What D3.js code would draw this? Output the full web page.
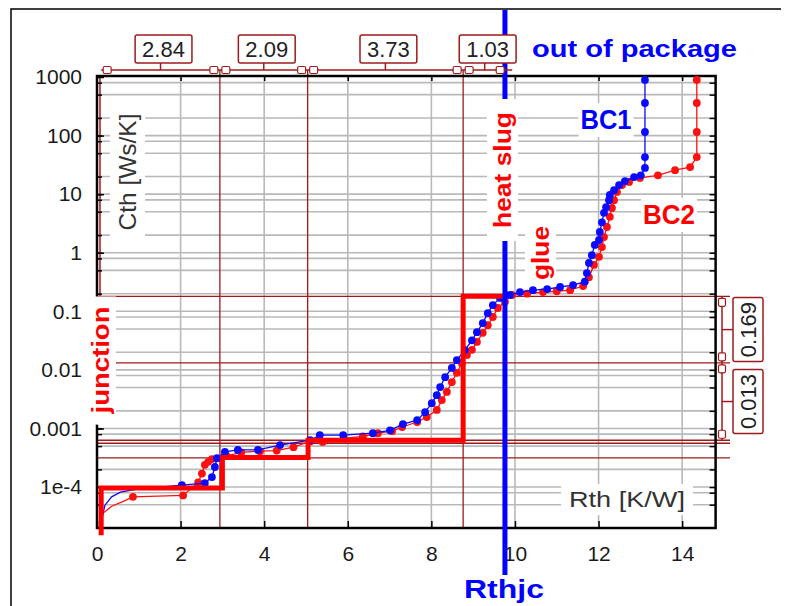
<!DOCTYPE html>
<html>
<head>
<meta charset="utf-8">
<script src="https://cdn.jsdelivr.net/npm/d3@7"></script>
<style>
body { margin: 0; background: #fff; }
svg { display: block; font-family: "Liberation Sans", Arial, sans-serif; }
</style>
</head>
<body>
<div id="chart"></div>
<script>
// Variables
var width = 793,
	height = 606,
	darkRed = "#9e1b1b",
	gridGray = "#b9b9b9";

// axis ticks
var xTicks = [0, 2, 4, 6, 8, 10, 12, 14];
var yTicks = [1e-4, 0.001, 0.01, 0.1, 1, 10, 100, 1000];
var yTickLabels = ["1e-4", "0.001", "0.01", "0.1", "1", "10", "100", "1000"];

// cumulative structure functions [Rth K/W, Cth Ws/K]
var bc1Lead = [[0.1, 2.6e-5], [0.19, 4.9e-5], [0.35, 6.8e-5], [0.56, 8.2e-5], [1.0, 9.3e-5], [1.5, 1.0e-4]];
var bc1 = [[2.03, 1.08e-4], [2.58, 1.17e-4], [2.75, 1.48e-4], [2.82, 2.2e-4], [2.87, 3.1e-4], [3.06, 4.0e-4],
	[3.37, 4.3e-4], [3.85, 4.3e-4], [4.38, 5.2e-4], [5.1, 6.3e-4], [5.33, 7.7e-4], [5.89, 7.7e-4], [6.6, 8.3e-4],
	[7.01, 9.3e-4], [7.32, 1.19e-3], [7.66, 1.39e-3], [7.85, 1.9e-3], [8.01, 2.7e-3], [8.13, 3.7e-3], [8.21, 5.1e-3],
	[8.33, 7.5e-3], [8.49, 0.0108], [8.61, 0.0147], [8.8, 0.0218], [8.97, 0.032], [9.09, 0.044], [9.23, 0.063],
	[9.35, 0.093], [9.47, 0.128], [9.64, 0.169], [9.88, 0.19], [10.12, 0.213], [10.43, 0.23], [10.77, 0.24],
	[11.08, 0.26], [11.39, 0.28], [11.67, 0.32], [11.72, 0.45], [11.77, 0.67], [11.84, 0.91], [11.91, 1.36],
	[12.01, 1.65], [12.03, 2.26], [12.08, 3.3], [12.13, 4.8], [12.18, 6.0], [12.25, 7.9], [12.27, 9.7],
	[12.37, 11.7], [12.49, 14.3], [12.63, 16.7], [12.85, 19.6], [13.01, 21], [13.11, 28], [13.11, 43],
	[13.11, 115], [13.11, 360], [13.11, 890]];
var bc2Lead = [[0.08, 2.4e-5], [0.15, 3.6e-5], [0.35, 4.7e-5], [0.6, 5.6e-5]];
var bc2 = [[0.86, 6.8e-5], [2.06, 7.2e-5], [2.42, 1.2e-4], [2.51, 1.7e-4], [2.58, 2.4e-4], [2.66, 2.7e-4],
	[2.75, 3.0e-4], [3.1, 3.4e-4], [3.45, 3.9e-4], [3.9, 4.1e-4], [4.3, 4.2e-4], [4.7, 4.8e-4], [5.1, 6.0e-4],
	[5.4, 5.9e-4], [5.9, 6.8e-4], [6.36, 7.3e-4], [6.72, 8.3e-4], [7.06, 9.0e-4], [7.3, 1.06e-3], [7.66, 1.29e-3],
	[7.89, 1.57e-3], [8.13, 2.07e-3], [8.25, 3.05e-3], [8.37, 4.2e-3], [8.49, 6.2e-3], [8.61, 8.9e-3],
	[8.73, 0.013], [8.85, 0.018], [8.97, 0.022], [9.09, 0.03], [9.23, 0.043], [9.35, 0.058], [9.47, 0.08],
	[9.59, 0.114], [9.76, 0.145], [9.93, 0.19], [10.29, 0.2], [10.67, 0.213], [11.0, 0.22], [11.32, 0.23],
	[11.63, 0.27], [11.77, 0.38], [11.89, 0.62], [12.01, 0.85], [12.08, 1.25], [12.13, 1.85], [12.2, 2.75],
	[12.27, 4.1], [12.32, 5.8], [12.37, 7.9], [12.44, 10.9], [12.56, 14.3], [12.73, 16.2], [12.99, 18.9],
	[13.42, 21], [13.83, 25.7], [14.19, 29], [14.35, 43], [14.35, 115], [14.35, 360], [14.35, 890]];

// lumped model steps
var stepR = [0.1, 0.1, 3.0, 5.05, 8.76, 9.76];
var stepC = [1.5e-5, 9.6e-5, 3.2e-4, 6.3e-4, 0.18, 0.18];

// partition markers
var rLines = [2.94, 5.04, 8.76];
var cLines = [0.18, 0.0132, 6.3e-4, 5.6e-4, 3.15e-4];
var bracketR = [0.1, 2.94, 5.04, 8.76, 9.79];
var bracketLabels = ["2.84", "2.09", "3.73", "1.03"];
var bracketC = [0.18, 0.0132, 6.3e-4];
var bracketCLabels = ["0.169", "0.013"];
var rthjc = 9.76;

var svg = d3.select("#chart").append("svg")
	.attr("width", width)
	.attr("height", height);

var x = d3.scaleLinear().domain([0, 14.8]).range([97, 715.6]),
	y = d3.scaleLog().domain([2e-5, 1040]).range([528, 76]);

var pLeft = x.range()[0], pRight = x.range()[1], pTop = y.range()[1], pBottom = y.range()[0];

// outer border (left + top visible)
svg.append("path")
	.attr("d", "M11,606V9H781")
	.attr("fill", "none")
	.attr("stroke", "#000")
	.attr("stroke-width", 1.5);

// grid
var gridVals = [];
yTicks.forEach(function(d) {
	[1, 0.8, 0.5, 0.2].forEach(function(f) {
		var v = d * f;
		if (v > 2.1e-5 && v < 1000) gridVals.push(v);
	});
});

svg.append("g").selectAll("line")
	.data(gridVals)
	.enter().append("line")
	.attr("x1", pLeft).attr("x2", pRight)
	.attr("y1", function(d) { return y(d); })
	.attr("y2", function(d) { return y(d); })
	.attr("stroke", gridGray)
	.attr("stroke-width", 1.6);

svg.append("g").selectAll("line")
	.data(xTicks.slice(1))
	.enter().append("line")
	.attr("x1", function(d) { return x(d); })
	.attr("x2", function(d) { return x(d); })
	.attr("y1", pTop).attr("y2", pBottom)
	.attr("stroke", gridGray)
	.attr("stroke-width", 1.6);

// dark red partition lines
svg.append("g").selectAll("line")
	.data(rLines)
	.enter().append("line")
	.attr("x1", function(d) { return x(d); })
	.attr("x2", function(d) { return x(d); })
	.attr("y1", 70).attr("y2", pBottom)
	.attr("stroke", darkRed)
	.attr("stroke-width", 1.3);

svg.append("g").selectAll("line")
	.data(cLines)
	.enter().append("line")
	.attr("x1", pLeft).attr("x2", 730)
	.attr("y1", function(d) { return y(d); })
	.attr("y2", function(d) { return y(d); })
	.attr("stroke", darkRed)
	.attr("stroke-width", 1.3);

// "out of package" region edge
svg.append("line")
	.attr("x1", pLeft + 3).attr("x2", pLeft + 3)
	.attr("y1", pTop).attr("y2", y(cLines[0]))
	.attr("stroke", darkRed)
	.attr("stroke-width", 1.5);

// frame
svg.append("rect")
	.attr("x", pLeft).attr("y", pTop)
	.attr("width", pRight - pLeft).attr("height", pBottom - pTop)
	.attr("fill", "none")
	.attr("stroke", "#000")
	.attr("stroke-width", 2.5);

// axes
function styleAxis(g) {
	g.select(".domain").remove();
	g.attr("font-size", 21).attr("font-family", "'Liberation Sans', Arial, sans-serif");
	g.selectAll("text").attr("fill", "#1a1a1a");
	g.selectAll("line").attr("stroke", "#000").attr("stroke-width", 1.5);
}

svg.append("g")
	.attr("transform", "translate(" + pLeft + ",0)")
	.call(d3.axisLeft(y).tickValues(yTicks).tickFormat(function(d, i) { return yTickLabels[i]; }).tickSize(-7).tickPadding(15))
	.call(styleAxis);
svg.append("g")
	.attr("transform", "translate(" + pLeft + ",0)")
	.call(d3.axisLeft(y).tickValues(gridVals).tickFormat("").tickSize(-5))
	.call(styleAxis);
svg.append("g")
	.attr("transform", "translate(" + pRight + ",0)")
	.call(d3.axisRight(y).tickValues(gridVals).tickFormat("").tickSize(-6))
	.call(styleAxis);
svg.append("g")
	.attr("transform", "translate(0," + pBottom + ")")
	.call(d3.axisBottom(x).tickValues(xTicks).tickSize(-7).tickPadding(18))
	.call(styleAxis);
svg.append("g")
	.attr("transform", "translate(0," + pTop + ")")
	.call(d3.axisTop(x).tickValues(xTicks.slice(1)).tickFormat("").tickSize(-5))
	.call(styleAxis);

// curves
var line = d3.line()
	.x(function(d) { return x(d[0]); })
	.y(function(d) { return y(d[1]); });

function drawCurve(lead, pts, color) {
	var g = svg.append("g");
	g.append("path")
		.attr("d", line(lead.concat(pts)))
		.attr("fill", "none")
		.attr("stroke", color)
		.attr("stroke-width", 1.3);
	g.selectAll("circle")
		.data(pts)
		.enter().append("circle")
		.attr("cx", function(d) { return x(d[0]); })
		.attr("cy", function(d) { return y(d[1]); })
		.attr("r", 3.9)
		.attr("fill", color);
}
drawCurve(bc2Lead, bc2, "#ff1010");
drawCurve(bc1Lead, bc1, "#0a0aff");

// lumped steps
svg.append("path")
	.attr("d", d3.line().curve(d3.curveStepAfter)
		.x(function(d) { return x(d[0]); })
		.y(function(d) { return y(d[1]); })(stepR.map(function(r, i) { return [r, stepC[i]]; })))
	.attr("fill", "none")
	.attr("stroke", "#ff0000")
	.attr("stroke-width", 5);

// Rthjc line
svg.append("line")
	.attr("x1", x(rthjc)).attr("x2", x(rthjc))
	.attr("y1", 10).attr("y2", 575)
	.attr("stroke", "#0000ff")
	.attr("stroke-width", 5);

// top bracket
var tb = svg.append("g");
tb.append("line")
	.attr("x1", x(bracketR[0])).attr("x2", x(bracketR[bracketR.length - 1]) + 6)
	.attr("y1", 70).attr("y2", 70)
	.attr("stroke", darkRed).attr("stroke-width", 1.5);
bracketLabels.forEach(function(lbl, i) {
	var a = x(bracketR[i]), b = x(bracketR[i + 1]), m = (a + b) / 2;
	[a + 2, b - 10].forEach(function(px) {
		tb.append("rect").attr("x", px).attr("y", 66.5).attr("width", 8).attr("height", 7)
			.attr("rx", 1.5).attr("fill", "#fff").attr("stroke", darkRed).attr("stroke-width", 1.2);
	});
	tb.append("line").attr("x1", m).attr("x2", m).attr("y1", 63).attr("y2", 70)
		.attr("stroke", darkRed).attr("stroke-width", 1.5);
	var t = tb.append("text").attr("x", m + 3).attr("y", 57).attr("text-anchor", "middle")
		.attr("font-size", 22).attr("fill", "#222").text(lbl);
	var bb = t.node().getBBox();
	tb.insert("rect", "text").attr("x", bb.x - 7).attr("y", 35).attr("width", bb.width + 14).attr("height", 28)
		.attr("rx", 2).attr("fill", "#fff").attr("stroke", darkRed).attr("stroke-width", 1.5);
});

// right bracket
var rb = svg.append("g");
rb.append("line")
	.attr("x1", 722).attr("x2", 722)
	.attr("y1", y(bracketC[0])).attr("y2", y(bracketC[bracketC.length - 1]))
	.attr("stroke", darkRed).attr("stroke-width", 1.5);
bracketCLabels.forEach(function(lbl, i) {
	var a = y(bracketC[i]), b = y(bracketC[i + 1]), m = (a + b) / 2;
	[a + 2, b - 10].forEach(function(py) {
		rb.append("rect").attr("x", 718.5).attr("y", py).attr("width", 7).attr("height", 8)
			.attr("rx", 1.5).attr("fill", "#fff").attr("stroke", darkRed).attr("stroke-width", 1.2);
	});
	rb.append("line").attr("x1", 722).attr("x2", 733).attr("y1", m).attr("y2", m)
		.attr("stroke", darkRed).attr("stroke-width", 1.5);
	rb.append("rect").attr("x", 733).attr("y", m - 32).attr("width", 30).attr("height", 64)
		.attr("rx", 2).attr("fill", "#fff").attr("stroke", darkRed).attr("stroke-width", 1.5);
	rb.append("text").attr("transform", "translate(748," + m + ") rotate(-90)")
		.attr("text-anchor", "middle").attr("dy", "0.36em")
		.attr("font-size", 22).attr("fill", "#222").text(lbl);
});

// labels
var labels = [
	{ text: "out of package", x: 532, y: 57, rot: 0, anchor: "start", size: 23, bold: true, fill: "#0000ff", len: 205 },
	{ text: "Rthjc", x: 504, y: 598, rot: 0, anchor: "middle", size: 25, bold: true, fill: "#0000ff", len: 80 },
	{ text: "BC1", x: 606, y: 129, rot: 0, anchor: "middle", size: 27, bold: true, fill: "#0000ff", len: 51, box: [2, 2] },
	{ text: "BC2", x: 669, y: 224, rot: 0, anchor: "middle", size: 27, bold: true, fill: "#ff0000", len: 52, box: [2, 2] },
	{ text: "heat slug", x: 511, y: 170, rot: -90, anchor: "middle", size: 24, bold: true, fill: "#ff0000", len: 116, box: [13, 2] },
	{ text: "glue", x: 549, y: 253, rot: -90, anchor: "middle", size: 24, bold: true, fill: "#ff0000", len: 54, box: [3, 2] },
	{ text: "junction", x: 109, y: 360, rot: -90, anchor: "middle", size: 24, bold: true, fill: "#ff0000", len: 107, box: [10, 2] },
	{ text: "Cth  [Ws/K]", x: 136, y: 172, rot: -90, anchor: "middle", size: 24, bold: false, fill: "#333", len: 117, box: [6, 4] },
	{ text: "Rth  [K/W]", x: 627, y: 507, rot: 0, anchor: "middle", size: 22, bold: false, fill: "#333", len: 116, box: [8, 3] }
];

labels.forEach(function(l) {
	var g = svg.append("g")
		.attr("transform", "translate(" + l.x + "," + l.y + ") rotate(" + l.rot + ")");
	var t = g.append("text")
		.attr("text-anchor", l.anchor)
		.attr("font-size", l.size)
		.attr("font-weight", l.bold ? "bold" : "normal")
		.attr("fill", l.fill)
		.attr("textLength", l.len)
		.attr("lengthAdjust", "spacingAndGlyphs")
		.text(l.text);
	if (l.box) {
		var bb = t.node().getBBox();
		g.insert("rect", "text")
			.attr("x", bb.x - l.box[0]).attr("y", bb.y - l.box[1])
			.attr("width", bb.width + 2 * l.box[0]).attr("height", bb.height + 2 * l.box[1])
			.attr("fill", "#fff");
	}
});
</script>
</body>
</html>
